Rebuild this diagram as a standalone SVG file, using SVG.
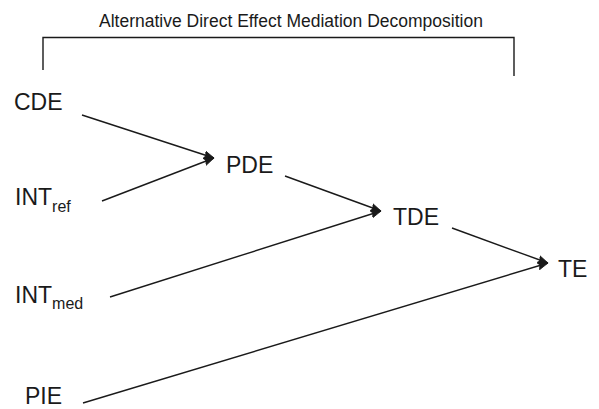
<svg xmlns="http://www.w3.org/2000/svg" width="599" height="409" viewBox="0 0 599 409">
<style>
text{font-family:"Liberation Sans",Arial,sans-serif;fill:#1a1a1a}
.n{font-size:23px}
.s{font-size:16px}
.t{font-size:17.5px}
.c{stroke:#1a1a1a;stroke-width:1.4;fill:none}
</style>
<defs>
<marker id="ah" markerUnits="userSpaceOnUse" markerWidth="12" markerHeight="10" refX="10" refY="5" orient="auto">
<path d="M0,1 L10,5 L0,9 L1.5,5 z" fill="#1a1a1a" stroke="#1a1a1a" stroke-width="0.8" stroke-linejoin="round"/>
</marker>
</defs>
<g id="title">
<text class="t" x="291" y="27" text-anchor="middle">Alternative Direct Effect Mediation Decomposition</text>
<path class="c" d="M43,70 V37.5 H514 V76"/>
</g>
<g id="connectors">
<line class="c" x1="82" y1="115" x2="214" y2="158" marker-end="url(#ah)"/>
<line class="c" x1="102" y1="201" x2="214" y2="158" marker-end="url(#ah)"/>
<line class="c" x1="285" y1="176" x2="381" y2="211" marker-end="url(#ah)"/>
<line class="c" x1="110" y1="297" x2="381" y2="211" marker-end="url(#ah)"/>
<line class="c" x1="452" y1="228" x2="548" y2="263" marker-end="url(#ah)"/>
<line class="c" x1="83" y1="403" x2="548" y2="263" marker-end="url(#ah)"/>
</g>
<g id="CDE"><text class="n" x="14" y="110">CDE</text></g>
<g id="INTref"><text class="n" x="15" y="205">INT<tspan class="s" dy="7">ref</tspan></text></g>
<g id="PDE"><text class="n" x="226" y="173">PDE</text></g>
<g id="INTmed"><text class="n" x="15" y="303">INT<tspan class="s" dy="6">med</tspan></text></g>
<g id="TDE"><text class="n" x="393" y="225">TDE</text></g>
<g id="TE"><text class="n" x="558" y="277">TE</text></g>
<g id="PIE"><text class="n" x="25" y="404">PIE</text></g>
</svg>
